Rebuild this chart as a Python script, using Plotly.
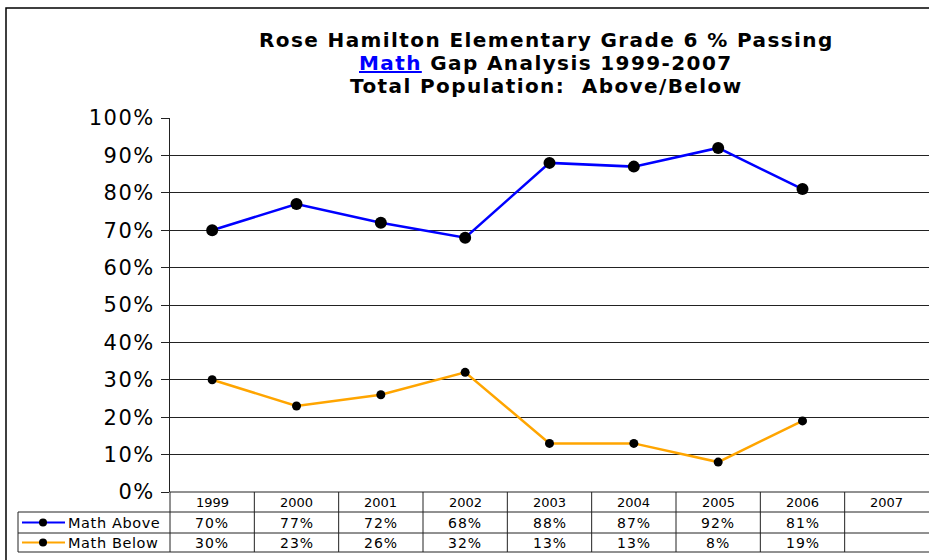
import plotly.graph_objects as go

years = ["1999", "2000", "2001", "2002", "2003", "2004", "2005", "2006", "2007"]
math_above = [70, 77, 72, 68, 88, 87, 92, 81]
math_below = [30, 23, 26, 32, 13, 13, 8, 19]
series_names = ["Math Above", "Math Below"]
series_colors = ["#0000FF", "#FFA500"]
y_ticks = [0, 10, 20, 30, 40, 50, 60, 70, 80, 90, 100]

W, H = 929, 560
L, R, T, B = 170, 0, 118, 68
PW = W - L - R
PH = H - T - B


def px_x(px):
    return (px - L) / PW


def px_y(py):
    return (H - B - py) / PH


def sp(text, ls):
    return f"<span style='letter-spacing:{ls}px'>{text}</span>"


fig = go.Figure()
xs = list(range(len(years)))
for vals, name, col, ms in [(math_above, series_names[0], series_colors[0], 12),
                            (math_below, series_names[1], series_colors[1], 9)]:
    fig.add_trace(go.Scatter(
        x=xs[:len(vals)], y=vals, mode="lines+markers", name=name,
        line=dict(color=col, width=2.5),
        marker=dict(color="black", size=ms),
        cliponaxis=False, showlegend=False,
    ))

shapes = []
line_c = "#222222"
shapes.append(dict(type="rect", xref="paper", yref="paper",
                   x0=px_x(6), x1=px_x(960), y0=px_y(600), y1=px_y(8),
                   line=dict(color="black", width=1.5), layer="below"))
rows = [492, 512, 533, 552]
shapes.append(dict(type="line", xref="paper", yref="paper",
                   x0=px_x(170), x1=px_x(931), y0=px_y(492), y1=px_y(492),
                   line=dict(color=line_c, width=1)))
for r in rows[1:]:
    shapes.append(dict(type="line", xref="paper", yref="paper",
                       x0=px_x(18), x1=px_x(931), y0=px_y(r), y1=px_y(r),
                       line=dict(color=line_c, width=1)))
shapes.append(dict(type="line", xref="paper", yref="paper",
                   x0=px_x(170), x1=px_x(170), y0=px_y(552), y1=px_y(492),
                   line=dict(color=line_c, width=1)))
shapes.append(dict(type="line", xref="paper", yref="paper",
                   x0=px_x(18), x1=px_x(18), y0=px_y(552), y1=px_y(512),
                   line=dict(color=line_c, width=1)))
for i in range(len(years) - 1):
    shapes.append(dict(type="line", xref="x", yref="paper",
                       x0=i + 0.5, x1=i + 0.5, y0=px_y(552), y1=px_y(492),
                       line=dict(color=line_c, width=1)))
for k, (r0, r1) in enumerate([(512, 533), (533, 552)]):
    cy = px_y((r0 + r1) / 2)
    shapes.append(dict(type="line", xref="paper", yref="paper",
                       x0=px_x(22), x1=px_x(65), y0=cy, y1=cy,
                       line=dict(color=series_colors[k], width=2)))
    shapes.append(dict(type="circle", xref="paper", yref="paper",
                       xsizemode="pixel", ysizemode="pixel",
                       xanchor=px_x(43), yanchor=cy,
                       x0=-4, x1=4, y0=-4, y1=4,
                       fillcolor="black", line=dict(color="black", width=0)))

annotations = []
tfont = dict(family="DejaVu Sans", size=20, color="black")
titles = [
    "<b>" + sp("Rose Hamilton Elementary Grade 6 % Passing", 1.4) + "</b>",
    "<b><span style='color:#0000FF;text-decoration:underline;letter-spacing:1.4px'>Math</span>"
    + sp(" Gap Analysis 1999-2007", 1.4) + "</b>",
    "<b>" + sp("Total Population:  Above/Below", 1.4) + "</b>",
]
for t, py in zip(titles, [40, 63, 86]):
    annotations.append(dict(text=t, xref="paper", yref="paper", x=px_x(546), y=px_y(py),
                            xanchor="center", yanchor="middle", showarrow=False, font=tfont))

cfont = dict(family="DejaVu Sans", size=13, color="black")
for i, yr in enumerate(years):
    annotations.append(dict(text=yr, xref="x", yref="paper", x=i, y=px_y(502),
                            xanchor="center", yanchor="middle", showarrow=False, font=cfont))
for k, (vals, (r0, r1)) in enumerate(zip([math_above, math_below], [(512, 533), (533, 552)])):
    cy = px_y((r0 + r1) / 2)
    annotations.append(dict(text=sp(series_names[k], 0.6), xref="paper", yref="paper",
                            x=px_x(66), y=cy, xanchor="left", yanchor="middle", showarrow=False,
                            font=dict(family="DejaVu Sans", size=14.5, color="black")))
    for i, v in enumerate(vals):
        annotations.append(dict(text=sp(f"{v}%", 1), xref="x", yref="paper", x=i, y=cy,
                                xanchor="center", yanchor="middle", showarrow=False,
                                font=dict(family="DejaVu Sans", size=14, color="black")))

fig.update_layout(
    width=W, height=H,
    margin=dict(l=L, r=R, t=T, b=B, pad=0),
    paper_bgcolor="white", plot_bgcolor="white",
    shapes=shapes, annotations=annotations,
    xaxis=dict(range=[-0.5, len(years) - 0.5], showgrid=False, zeroline=False,
               showticklabels=False, ticks="", showline=False, fixedrange=True),
    yaxis=dict(range=[0, 100], tickvals=y_ticks, ticktext=[sp(f"{v}%", 1.5) for v in y_ticks],
               showgrid=True, gridcolor=line_c, gridwidth=1, zeroline=False,
               showline=True, linecolor=line_c, linewidth=1,
               ticks="outside", ticklen=8, tickcolor=line_c, ticklabelstandoff=2,
               tickfont=dict(family="DejaVu Sans", size=21, color="black"), fixedrange=True),
    showlegend=False,
    hovermode=False,
)

fig.write_html("out.html", config={"displayModeBar": False},
               post_script="document.body.style.margin='0px';")
